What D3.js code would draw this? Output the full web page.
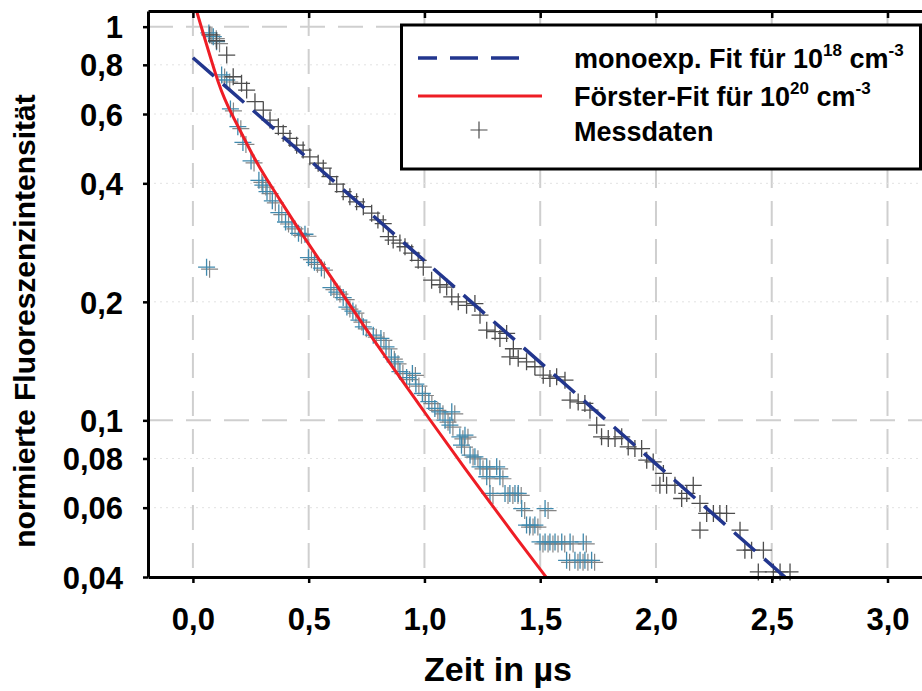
<!DOCTYPE html>
<html lang="de">
<head>
<meta charset="UTF-8">
<title>Fluoreszenzabklingen</title>
<script src="https://d3js.org/d3.v7.min.js"></script>
<style>
  body { margin: 0; background: #fff; }
  svg text { font-family: "Liberation Sans", Arial, sans-serif; font-weight: bold; }
</style>
</head>
<body>
<svg id="chart" width="922" height="691"></svg>
<script>
// Messdaten 10^18 cm^-3 (dunkelgrau): [Zeit in µs, normierte Intensität]
var messA = [
  [0.073,0.953],[0.102,0.921],[0.146,0.847],[0.174,0.746],[0.210,0.718],[0.232,0.690],
  [0.268,0.645],[0.304,0.614],[0.333,0.579],[0.369,0.557],[0.390,0.536],[0.419,0.520],
  [0.448,0.500],[0.476,0.486],[0.505,0.467],[0.541,0.450],[0.563,0.437],[0.592,0.416],
  [0.621,0.398],[0.649,0.381],[0.678,0.370],[0.707,0.359],[0.736,0.349],[0.772,0.336],
  [0.799,0.323],[0.822,0.316],[0.844,0.293],[0.865,0.287],[0.894,0.282],[0.916,0.276],
  [0.945,0.266],[0.973,0.255],[0.995,0.245],[1.031,0.227],[1.067,0.221],[1.096,0.218],
  [1.118,0.206],[1.146,0.200],[1.182,0.196],[1.218,0.198],[1.240,0.185],[1.269,0.1695],
  [1.305,0.168],[1.326,0.1615],[1.355,0.1663],[1.369,0.145],[1.384,0.152],[1.405,0.1437],
  [1.441,0.1408],[1.477,0.1368],[1.513,0.1302],[1.542,0.1278],[1.571,0.129],[1.607,0.1265],
  [1.629,0.1125],[1.664,0.1114],[1.693,0.1104],[1.715,0.1061],[1.744,0.0972],[1.765,0.0908],
  [1.794,0.0899],[1.823,0.0899],[1.852,0.0908],[1.880,0.0856],[1.909,0.0848],[1.938,0.0848],
  [1.960,0.0792],[1.988,0.0784],[2.017,0.0684],[2.032,0.0733],[2.046,0.0684],[2.082,0.0684],
  [2.111,0.0633],[2.133,0.0652],[2.161,0.0684],[2.190,0.0615],[2.190,0.0526],[2.219,0.058],
  [2.248,0.058],[2.276,0.058],[2.305,0.058],[2.363,0.0526],[2.384,0.0468],[2.413,0.0468],
  [2.464,0.0468],[2.442,0.0412],[2.507,0.0412],[2.536,0.0412],[2.579,0.0412]
];

// Messdaten 10^20 cm^-3 (blaugrün)
var messB = [
  [0.059,0.245],[0.069,0.964],[0.088,0.943],[0.102,0.916],[0.124,0.754],[0.146,0.732],
  [0.162,0.618],[0.194,0.557],[0.216,0.508],[0.251,0.456],[0.285,0.407],[0.302,0.396],
  [0.320,0.381],[0.343,0.361],[0.371,0.337],[0.400,0.319],[0.428,0.310],[0.456,0.2985],
  [0.484,0.297],[0.499,0.259],[0.525,0.252],[0.555,0.2436],[0.596,0.2174],[0.622,0.2117],
  [0.649,0.205],[0.665,0.194],[0.691,0.1895],[0.717,0.1797],[0.736,0.1728],[0.779,0.1646],
  [0.812,0.1615],[0.834,0.1537],[0.857,0.1447],[0.873,0.1408],[0.894,0.133],[0.923,0.1284],
  [0.948,0.1316],[0.963,0.1236],[0.991,0.117],[1.019,0.1116],[1.045,0.1072],[1.067,0.1051],
  [1.089,0.1001],[1.110,0.0972],[1.118,0.1051],[1.153,0.0908],[1.160,0.0865],[1.175,0.0917],
  [1.197,0.0816],[1.218,0.0808],[1.240,0.0762],[1.269,0.0762],[1.269,0.0719],[1.312,0.0762],
  [1.326,0.0719],[1.283,0.0652],[1.348,0.0652],[1.369,0.0652],[1.391,0.0652],[1.405,0.0652],
  [1.420,0.0597],[1.521,0.0597],[1.441,0.0542],[1.456,0.0542],[1.477,0.0542],[1.499,0.0491],
  [1.521,0.0491],[1.542,0.0491],[1.564,0.0491],[1.593,0.0491],[1.629,0.0491],[1.686,0.0491],
  [1.614,0.0441],[1.650,0.0441],[1.672,0.0441],[1.693,0.0441],[1.722,0.0441]
];

// Fits
var fitMono = [[0, 0.834], [2.557, 0.04]];
var fitFoerster = [
  [0.016,1.096],[0.109,0.725],[0.174,0.59],[0.26,0.470],[0.318,0.411],[0.4,0.345],
  [0.48,0.292],[0.58,0.239],[0.664,0.202],[0.75,0.170],[0.865,0.136],[1.0,0.105],
  [1.14,0.0806],[1.283,0.0619],[1.4,0.050],[1.528,0.0398]
];

var xTicks = [0, 0.5, 1.0, 1.5, 2.0, 2.5, 3.0];
var xTickLabels = ["0,0", "0,5", "1,0", "1,5", "2,0", "2,5", "3,0"];
var yTicks = [1, 0.8, 0.6, 0.4, 0.2, 0.1, 0.08, 0.06, 0.04];
var yTickLabels = ["1", "0,8", "0,6", "0,4", "0,2", "0,1", "0,08", "0,06", "0,04"];
var yMajor = [1, 0.1];
var yMinor = [0.8, 0.6, 0.4, 0.2, 0.08, 0.06];

var svg = d3.select("#chart");
var plotL = 148, plotR = 922, plotT = 11, plotB = 577;

var x = d3.scaleLinear().domain([-0.194, 3.149]).range([plotL, plotR]);
var y = d3.scaleLog().domain([0.04, 1.096]).range([plotB, plotT]);

svg.append("defs").append("clipPath").attr("id", "plotclip")
  .append("rect").attr("x", plotL).attr("y", plotT)
  .attr("width", plotR - plotL).attr("height", plotB - plotT);

// grid
var grid = svg.append("g");
grid.selectAll(".vgrid").data(xTicks).enter().append("line")
  .attr("x1", d => x(d)).attr("x2", d => x(d))
  .attr("y1", plotT).attr("y2", plotB)
  .attr("stroke", "#cfcfcf").attr("stroke-width", 2)
  .attr("stroke-dasharray", "25,13");
grid.selectAll(".hgrid").data(yMajor).enter().append("line")
  .attr("x1", plotL).attr("x2", plotR)
  .attr("y1", d => y(d)).attr("y2", d => y(d))
  .attr("stroke", "#cfcfcf").attr("stroke-width", 2)
  .attr("stroke-dasharray", "25,13");
grid.selectAll(".mgrid").data(yMinor).enter().append("line")
  .attr("x1", plotL).attr("x2", plotR)
  .attr("y1", d => y(d)).attr("y2", d => y(d))
  .attr("stroke", "#e2e2e2").attr("stroke-width", 1)
  .attr("stroke-dasharray", "2,4");

// markers
var plus = "M-8.5,0H8.5M0,-8.5V8.5";
var marks = svg.append("g");
marks.selectAll(".shadowB").data(messB).enter().append("path")
  .attr("d", plus)
  .attr("transform", d => "translate(" + (x(d[0]) + 3) + "," + (y(d[1]) + 2) + ")")
  .attr("stroke", "#858585").attr("stroke-width", 1.2).attr("fill", "none");
marks.selectAll(".ptB").data(messB).enter().append("path")
  .attr("d", plus)
  .attr("transform", d => "translate(" + x(d[0]) + "," + y(d[1]) + ")")
  .attr("stroke", "#4089ad").attr("stroke-width", 1.3).attr("fill", "none");
marks.selectAll(".ptA").data(messA).enter().append("path")
  .attr("d", plus)
  .attr("transform", d => "translate(" + x(d[0]) + "," + y(d[1]) + ")")
  .attr("stroke", "#4d4d4d").attr("stroke-width", 1.3).attr("fill", "none");

// fit lines
var line = d3.line().x(d => x(d[0])).y(d => y(d[1]));
var fits = svg.append("g").attr("clip-path", "url(#plotclip)");
fits.append("path").datum(fitMono).attr("d", line)
  .attr("fill", "none").attr("stroke", "#22368e").attr("stroke-width", 3.5)
  .attr("stroke-dasharray", "28,12");
fits.append("path").datum(fitFoerster).attr("d", line.curve(d3.curveNatural))
  .attr("fill", "none").attr("stroke", "#ee1d25").attr("stroke-width", 3);

// axes
var yAxis = svg.append("g").attr("transform", "translate(" + plotL + ",0)")
  .call(d3.axisLeft(y).tickValues(yTicks)
    .tickFormat((d, i) => yTickLabels[i]).tickSize(5).tickSizeOuter(0).tickPadding(20));
var xAxis = svg.append("g").attr("transform", "translate(0," + plotB + ")")
  .call(d3.axisBottom(x).tickValues(xTicks)
    .tickFormat((d, i) => xTickLabels[i]).tickSize(6).tickSizeOuter(0).tickPadding(25));
var topAxis = svg.append("g").attr("transform", "translate(0," + plotT + ")")
  .call(d3.axisTop(x).tickValues(xTicks).tickFormat("").tickSize(-7).tickSizeOuter(0));

[yAxis, xAxis, topAxis].forEach(function (g) {
  g.attr("font-family", null).attr("font-size", null);
  g.select(".domain").attr("stroke", "#000").attr("stroke-width", 3);
  g.selectAll(".tick line").attr("stroke", "#000").attr("stroke-width", 2.5);
  g.selectAll(".tick text").style("font-size", "31px").attr("fill", "#000");
});
yAxis.selectAll(".tick text").attr("dy", "0.36em");

// axis titles
svg.append("text")
  .attr("transform", "translate(35,321) rotate(-90)")
  .attr("text-anchor", "middle").style("font-size", "30px")
  .text("normierte Fluoreszenzintensität");
svg.append("text")
  .attr("x", 498).attr("y", 681)
  .attr("text-anchor", "middle").style("font-size", "34px")
  .text("Zeit in µs");

// legend
var lg = svg.append("g");
lg.append("rect").attr("x", 401.5).attr("y", 25).attr("width", 519).attr("height", 144)
  .attr("fill", "#fff").attr("stroke", "#000").attr("stroke-width", 3);
lg.append("line").attr("x1", 418).attr("x2", 530).attr("y1", 58).attr("y2", 58)
  .attr("stroke", "#22368e").attr("stroke-width", 3.5)
  .attr("stroke-dasharray", "28,13").attr("stroke-dashoffset", 9);
lg.append("line").attr("x1", 418).attr("x2", 542).attr("y1", 96).attr("y2", 96)
  .attr("stroke", "#ee1d25").attr("stroke-width", 3);
lg.append("path").attr("d", plus).attr("transform", "translate(479,130)")
  .attr("stroke", "#4d4d4d").attr("stroke-width", 1.2).attr("fill", "none");

function legendText(yPos, base, sup1, mid, sup2) {
  var t = lg.append("text").attr("x", 574).attr("y", yPos).style("font-size", "27px");
  t.append("tspan").text(base);
  if (sup1) {
    t.append("tspan").attr("dy", -12).style("font-size", "17px").text(sup1);
    t.append("tspan").attr("dy", 12).text(mid);
    t.append("tspan").attr("dy", -12).style("font-size", "17px").text(sup2);
  }
}
legendText(68, "monoexp. Fit für 10", "18", " cm", "-3");
legendText(106, "Förster-Fit für 10", "20", " cm", "-3");
legendText(141, "Messdaten");
</script>
</body>
</html>
